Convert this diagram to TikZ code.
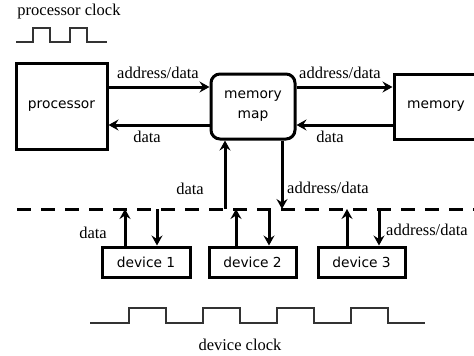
\documentclass[tikz,border=0pt]{standalone}
\usepackage{fontspec}
\setmainfont{Liberation Serif}
\newfontfamily\boxfont{DejaVu Sans}
\usetikzlibrary{arrows.meta}

\begin{document}
\begin{tikzpicture}[x=1pt,y=-1pt]
\clip (0,0) rectangle (474,356);
\tikzset{BoxStyle/.style={draw,line width=3pt,inner sep=0pt,
  font=\boxfont\fontsize{13.8}{17}\selectfont}}
\tikzset{LabelStyle/.style={inner sep=0pt,font=\fontsize{16.5}{18}\selectfont}}
\tikzset{EdgeStyle/.style={line width=3pt,-{Stealth[length=10pt,width=11pt,inset=3.5pt]}}}
\tikzset{BusStyle/.style={line width=3pt,dash pattern=on 14pt off 10pt}}
\tikzset{ClockStyle/.style={line width=1.5pt,black!80}}
\node[BoxStyle,minimum width=91pt,minimum height=86pt] (proc) at (61.5,106) {processor};
\node[BoxStyle,minimum width=84pt,minimum height=65pt,rounded corners=9pt,align=center] (mmap) at (253,106.5) {memory\\[3pt]map};
\node[BoxStyle,minimum width=84pt,minimum height=65pt] (mem) at (436,106.5) {memory};
\node[BoxStyle,minimum width=88pt,minimum height=30pt] (dev1) at (146,262) {device 1};
\node[BoxStyle,minimum width=87pt,minimum height=30pt] (dev2) at (252.5,262) {device 2};
\node[BoxStyle,minimum width=87pt,minimum height=30pt] (dev3) at (361.5,262) {device 3};
\coordinate (busL) at (17,209);
\coordinate (busR) at (474,209);
\draw[BusStyle] (busL) -- (busR);
\draw[EdgeStyle] (proc.east |- 0,87) -- (mmap.west |- 0,87);
\draw[EdgeStyle] (mmap.west |- 0,125) -- (proc.east |- 0,125);
\draw[EdgeStyle] (mmap.east |- 0,87) -- (mem.west |- 0,87);
\draw[EdgeStyle] (mem.west |- 0,125) -- (mmap.east |- 0,125);
\draw[EdgeStyle] (busL -| 225,0) -- (mmap.south -| 225,0);
\draw[EdgeStyle] (mmap.south -| 282,0) -- (busL -| 282,0);
\draw[EdgeStyle] (dev1.north -| 125,0) -- (busL -| 125,0);
\draw[EdgeStyle] (busL -| 157,0) -- (dev1.north -| 157,0);
\draw[EdgeStyle] (dev2.north -| 236,0) -- (busL -| 236,0);
\draw[EdgeStyle] (busL -| 269,0) -- (dev2.north -| 269,0);
\draw[EdgeStyle] (dev3.north -| 347,0) -- (busL -| 347,0);
\draw[EdgeStyle] (busL -| 379,0) -- (dev3.north -| 379,0);
\node[LabelStyle] (pclk) at (69,12) {processor clock};
\node[LabelStyle] (ad1) at (158,73) {address/data};
\node[LabelStyle] (d1) at (147,137) {data};
\node[LabelStyle] (ad2) at (340,73) {address/data};
\node[LabelStyle] (d2) at (330,137) {data};
\node[LabelStyle] (d3) at (190,189) {data};
\node[LabelStyle,anchor=west] (ad3) at (287,188) {address/data};
\node[LabelStyle] (d4) at (93,233) {data};
\node[LabelStyle,anchor=west] (ad4) at (386,230) {address/data};
\node[LabelStyle] (dclk) at (240,345) {device clock};
\draw[ClockStyle] (16,42) -- (33,42)
  \foreach \i in {1,2} { -- ++(0,-14) -- ++(17,0) -- ++(0,14) -- ++(20,0) };
\draw[ClockStyle] (90,323) -- (129,323)
  \foreach \i in {1,...,4} { -- ++(0,-15) -- ++(37,0) -- ++(0,15) -- ++(37,0) };
\end{tikzpicture}
\end{document}
